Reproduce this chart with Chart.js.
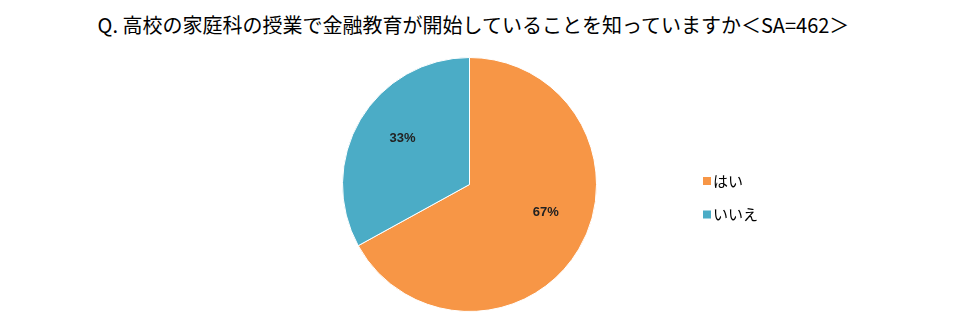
<!DOCTYPE html>
<html>
<head>
<meta charset="utf-8">
<script src="https://cdn.jsdelivr.net/npm/chart.js@4/dist/chart.umd.min.js"></script>
<style>
  html, body { margin:0; padding:0; background:#fff; }
  #wrap { position:relative; width:970px; height:322px; }
  #title { position:absolute; left:0; top:13px; width:947px; text-align:center;
           font-family:'Noto Sans CJK JP', sans-serif; font-size:20px; line-height:24px; color:#000; }
  canvas { position:absolute; left:0; top:0; }
</style>
</head>
<body>
<div id="wrap">
  <div id="title">Q. 高校の家庭科の授業で金融教育が開始していることを知っていますか＜SA=462＞</div>
  <canvas id="c" width="970" height="322"></canvas>
</div>
<script>
const categories = ['はい', 'いいえ'];
const percentValues = [67, 33];
const sliceColors = ['#F79646', '#4BACC6'];

const labelPlugin = {
  id: 'sliceLabels',
  afterDatasetsDraw(chart) {
    const ctx = chart.ctx;
    const meta = chart.getDatasetMeta(0);
    const shifts = [-10.5, 4];
    ctx.save();
    ctx.font = 'bold 13px "Liberation Sans", Arial, sans-serif';
    ctx.fillStyle = '#222';
    ctx.textAlign = 'center';
    ctx.textBaseline = 'middle';
    meta.data.forEach((arc, i) => {
      const p = arc.getProps(['x','y','startAngle','endAngle','outerRadius'], true);
      const mid = (p.startAngle + p.endAngle) / 2 + shifts[i] * Math.PI / 180;
      const r = p.outerRadius * 0.64;
      ctx.fillText(percentValues[i] + '%', p.x + Math.cos(mid) * r, p.y + Math.sin(mid) * r);
    });
    ctx.restore();
  }
};

const legendPlugin = {
  id: 'customLegend',
  afterDraw(chart) {
    const ctx = chart.ctx;
    ctx.save();
    ctx.font = '15px "Noto Sans CJK JP", sans-serif';
    ctx.textBaseline = 'middle';
    ctx.textAlign = 'left';
    chart.data.labels.forEach((lab, i) => {
      const y = 181 + i * 33.5;
      ctx.fillStyle = chart.data.datasets[0].backgroundColor[i];
      ctx.fillRect(703, y - 4, 8, 8);
      ctx.fillStyle = '#000';
      ctx.fillText(lab, 713, y);
    });
    ctx.restore();
  }
};

new Chart(document.getElementById('c'), {
  type: 'pie',
  data: {
    labels: categories,
    datasets: [{
      data: percentValues,
      backgroundColor: sliceColors,
      borderColor: '#ffffff',
      borderWidth: 1
    }]
  },
  options: {
    responsive: false,
    animation: false,
    layout: { padding: { top: 57, bottom: 10, left: 0, right: 31 } },
    plugins: {
      legend: { display: false },
      title: { display: false },
      tooltip: { enabled: false }
    }
  },
  plugins: [labelPlugin, legendPlugin]
});
</script>
</body>
</html>
